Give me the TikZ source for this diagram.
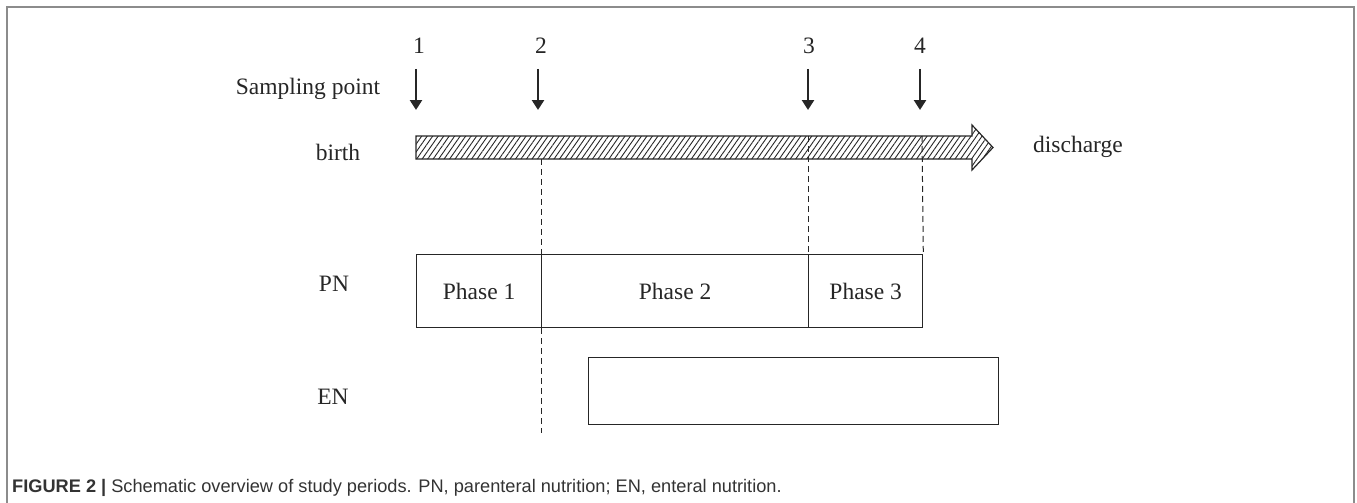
\documentclass[tikz,border=0pt]{standalone}
\usepackage{fontspec}
\setmainfont{Liberation Serif}
\newfontfamily\capfont{Liberation Sans}
\usetikzlibrary{arrows.meta, patterns.meta}
\definecolor{framegray}{HTML}{8C8C8C}
\definecolor{inkgray}{HTML}{262626}
\definecolor{capgray}{HTML}{333333}

\begin{document}
\begin{tikzpicture}[x=1pt, y=-1pt,
		lbl/.style={font=\fontsize{23.5}{28}\selectfont, text=inkgray, inner sep=0pt},
		phasebox/.style={lbl, draw=inkgray, line width=1.3pt, minimum height=73pt, anchor=north west},
		samplearrow/.style={draw=inkgray, line width=2.8pt, -{Triangle[width=12pt, length=10pt]}},
		guide/.style={draw=inkgray, line width=1pt, dash pattern=on 6pt off 4pt},
		hatchbar/.style={draw=inkgray, line width=1.2pt, pattern={Lines[angle=55, distance=4.5pt, line width=0.9pt]}, pattern color=inkgray}]
		\useasboundingbox (0,0) rectangle (1357,503);
		\draw[framegray, line width=2pt] (7,503) -- (7,7) -- (1354,7) -- (1354,503);
		
		\node (num1) [lbl, anchor=base] at (419,53) {1};
		\node (num2) [lbl, anchor=base] at (541,53) {2};
		\node (num3) [lbl, anchor=base] at (809,53) {3};
		\node (num4) [lbl, anchor=base] at (920,53) {4};
		\node (sampling) [lbl, anchor=base] at (308,95) {Sampling point};
		\node (birth) [lbl, anchor=base] at (338,160) {birth};
		\node (discharge) [lbl, anchor=base] at (1078,152) {discharge};
		\node (pn) [lbl, anchor=base] at (334,291) {PN};
		\node (en) [lbl, anchor=base] at (333,404) {EN};
		
		\coordinate (s1top) at (416,69);
		\coordinate (s1bot) at (416,110);
		\coordinate (s2top) at (538,69);
		\coordinate (s2bot) at (538,110);
		\coordinate (s3top) at (808,69);
		\coordinate (s3bot) at (808,110);
		\coordinate (s4top) at (920,69);
		\coordinate (s4bot) at (920,110);
		\draw[samplearrow] (s1top) -- (s1bot);
		\draw[samplearrow] (s2top) -- (s2bot);
		\draw[samplearrow] (s3top) -- (s3bot);
		\draw[samplearrow] (s4top) -- (s4bot);
		
		\draw[hatchbar] (416,136) -- (972,136) -- (972,125) -- (993,147.5) -- (972,170) -- (972,159) -- (416,159) -- cycle;
		
		\node (phase1) [phasebox, minimum width=125pt] at (416,254) {Phase 1};
		\node (phase2) [phasebox, minimum width=267pt] at (541,254) {Phase 2};
		\node (phase3) [phasebox, minimum width=114pt] at (808,254) {Phase 3};
		\node (enbox) [phasebox, minimum width=410pt, minimum height=67pt] at (588,357) {};
		
		\coordinate (bar2) at (541,159);
		\coordinate (bar3) at (808,136);
		\coordinate (bar4) at (922,136);
		\coordinate (end2) at (541,433);
		\draw[guide] (bar2) -- (phase2.north west);
		\draw[guide] (bar3) -- (phase3.north west);
		\draw[guide] (bar4) -- (phase3.north east);
		\draw[guide] (phase2.south west) -- (end2);
		
		\node (caption) [anchor=base west, inner sep=0pt, text=capgray, font=\capfont\fontsize{18.2}{21}\selectfont] at (12,492) {\textbf{FIGURE 2 |} Schematic overview of study periods. PN, parenteral nutrition; EN, enteral nutrition.};
\end{tikzpicture}
\end{document}
